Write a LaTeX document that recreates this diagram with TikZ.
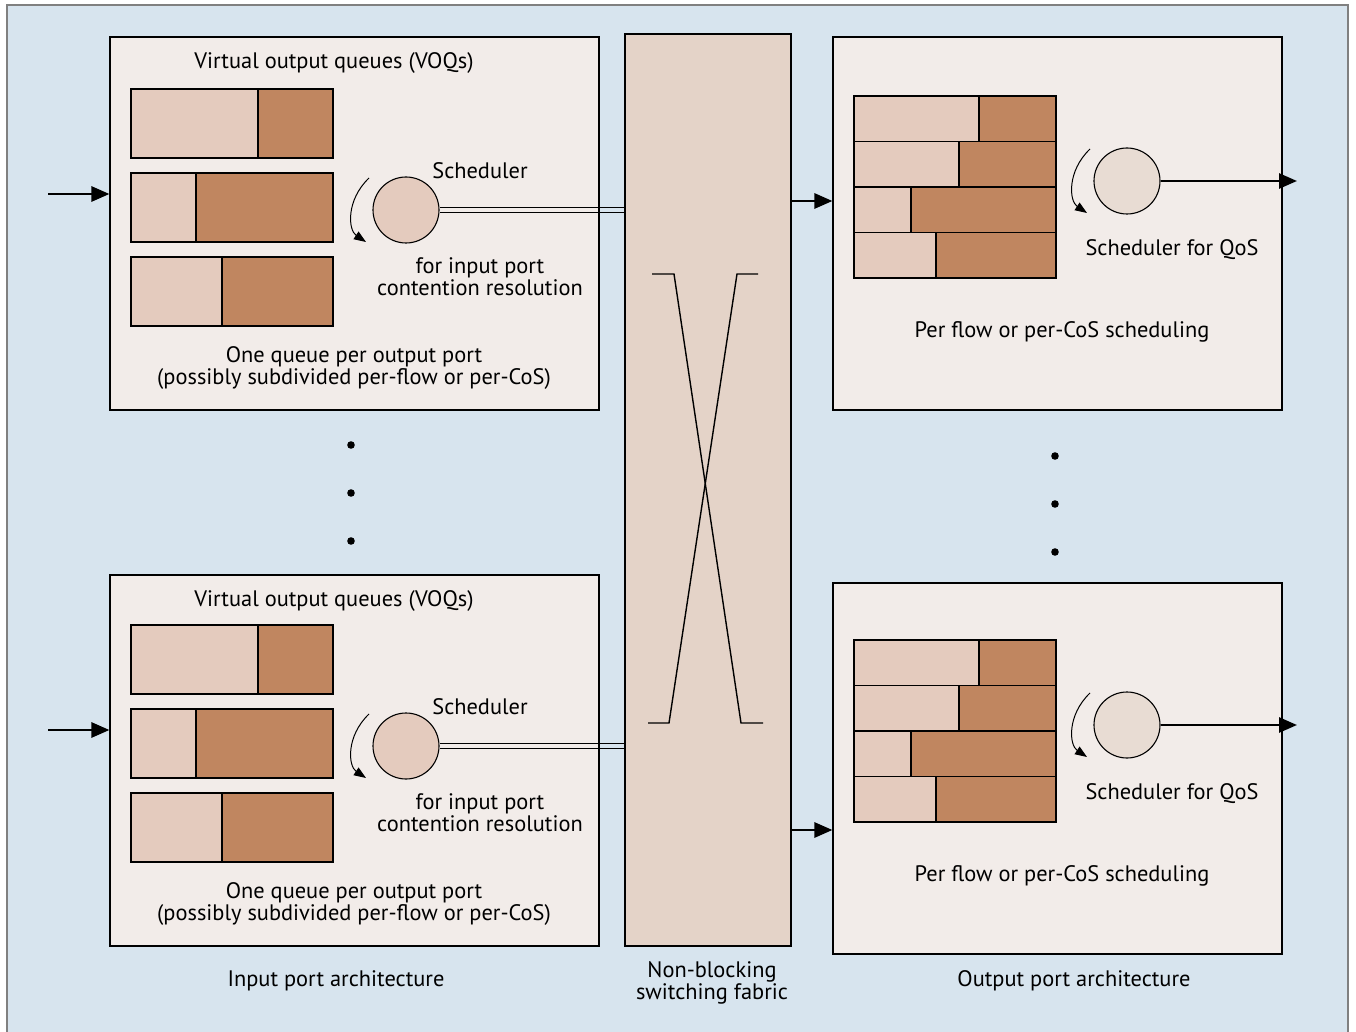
\documentclass[tikz,border=0pt]{standalone}
\usepackage{fontspec}
\setmainfont{PT Sans}
\usetikzlibrary{arrows.meta, positioning, fit, calc}
\definecolor{bgColor}{HTML}{D7E4EE}
\definecolor{portColor}{HTML}{F2ECE9}
\definecolor{lightQColor}{HTML}{E4CBBE}
\definecolor{darkQColor}{HTML}{C08660}
\definecolor{fabricColor}{HTML}{E4D3C8}
\definecolor{qosColor}{HTML}{E8DCD3}
\begin{document}
\begin{tikzpicture}[
    x=0.5pt, y=-0.5pt,
    port/.style={rectangle, draw, fill=portColor, inner sep=0pt, line width=0.55pt},
    fabric/.style={rectangle, draw, fill=fabricColor, inner sep=0pt, line width=0.55pt},
    qlight/.style={draw, fill=lightQColor, line width=0.6pt},
    qdark/.style={draw, fill=darkQColor, line width=0.6pt},
    sched/.style={circle, draw, fill=lightQColor, minimum size=33pt, inner sep=0pt, line width=0.55pt},
    arrow/.style={-{Triangle[length=9pt, width=7.5pt]}, line width=1.4pt},
    turn/.style={-{Triangle[length=6pt, width=4.5pt]}, line width=0.5pt},
    label/.style={font=\fontsize{11.2}{11}\selectfont, align=center, inner sep=0pt},
    dot/.style={circle, fill, inner sep=0pt, minimum size=3.8pt}
]
    \useasboundingbox (0,0) rectangle (1356,1032);
    % Background
    \fill[bgColor] (7,5) rectangle (1348,1040);
    \draw[gray, line width=0.6pt] (7,1040) -- (7,5) -- (1348,5) -- (1348,1040);

    % Ports and fabric
    \node[port, fit={(110,37) (599,410)}] (inA) {};
    \node[port, fit={(110,575) (599,946)}] (inB) {};
    \node[fabric, fit={(625,34) (791,946)}] (fab) {};
    \node[port, fit={(833,37) (1282,410)}] (outA) {};
    \node[port, fit={(833,583) (1282,954)}] (outB) {};

    % VOQs
    \foreach \dy in {0,536}
        \foreach \y/\s in {89/258, 173/196, 257/222} {
            \draw[qlight] (131,\y+\dy) rectangle (\s,\y+\dy+69);
            \draw[qdark] (\s,\y+\dy) rectangle (333,\y+\dy+69);
        }

    % Output queues
    \foreach \dy in {0,544}
        \foreach \i/\s in {0/979, 1/959, 2/911, 3/936} {
            \draw[qlight] (854,96+\dy+45.5*\i) rectangle (\s,141.5+\dy+45.5*\i);
            \draw[qdark] (\s,96+\dy+45.5*\i) rectangle (1056,141.5+\dy+45.5*\i);
        }

    % Schedulers
    \node[sched] (schedA) at (406,210) {};
    \node[sched] (schedB) at (406,746) {};
    \node[sched, fill=qosColor] (qosA) at (1127,181) {};
    \node[sched, fill=qosColor] (qosB) at (1127,725) {};

    \foreach \s in {schedA, schedB, qosA, qosB}
        \draw[turn] ($(\s)+(-37,-32)$) .. controls ($(\s)+(-60,-10)$) and ($(\s)+(-58,20)$) .. ($(\s)+(-40,32)$);

    % Scheduler to fabric
    \foreach \s in {schedA, schedB} {
        \draw[line width=0.6pt] ([yshift=1.35pt]\s.east) -- ([yshift=1.35pt]\s.east -| fab.west);
        \draw[line width=0.6pt] ([yshift=-1.35pt]\s.east) -- ([yshift=-1.35pt]\s.east -| fab.west);
    }

    % Crossing inside the fabric
    \draw[line width=0.7pt] (652,274) -- (674,274) -- (741,723) -- (763,723);
    \draw[line width=0.7pt] (758,274) -- (737,274) -- (669,723) -- (648,723);

    % Arrows
    \coordinate (srcA) at (48,194);
    \coordinate (srcB) at (48,730);
    \coordinate (fabA) at (791,201);
    \coordinate (fabB) at (791,830);
    \coordinate (dstA) at (1297,181);
    \coordinate (dstB) at (1297,725);
    \draw[arrow] (srcA) -- (srcA -| inA.west);
    \draw[arrow] (srcB) -- (srcB -| inB.west);
    \draw[arrow] (fabA) -- (fabA -| outA.west);
    \draw[arrow] (fabB) -- (fabB -| outB.west);
    \draw[arrow] (qosA) -- (dstA);
    \draw[arrow] (qosB) -- (dstB);

    % Dots
    \foreach \y in {445,493,541} \node[dot] (dotL\y) at (351,\y) {};
    \foreach \y in {456,504,552} \node[dot] (dotR\y) at (1055,\y) {};

    % Labels
    \node[label] (voqA) at (334,63) {Virtual output queues (VOQs)};
    \node[label] (schedAtxt) at (480,171) {Scheduler};
    \node[label] (contA) at (480,277) {for input port\\contention resolution};
    \node[label] (oneA) at (354,368) {One queue per output port\\(possibly subdivided per-flow or per-CoS)};
    \node[label] (voqB) at (334,601) {Virtual output queues (VOQs)};
    \node[label] (schedBtxt) at (480,707) {Scheduler};
    \node[label] (contB) at (480,813) {for input port\\contention resolution};
    \node[label] (oneB) at (354,904) {One queue per output port\\(possibly subdivided per-flow or per-CoS)};
    \node[label] (qosAtxt) at (1172,250) {Scheduler for QoS};
    \node[label] (flowA) at (1062,332) {Per flow or per-CoS scheduling};
    \node[label] (qosBtxt) at (1172,794) {Scheduler for QoS};
    \node[label] (flowB) at (1062,876) {Per flow or per-CoS scheduling};
    \node[label] (inTxt) at (336,981) {Input port architecture};
    \node[label] (fabTxt) at (712,983) {Non-blocking\\switching fabric};
    \node[label] (outTxt) at (1074,981) {Output port architecture};
\end{tikzpicture}
\end{document}
